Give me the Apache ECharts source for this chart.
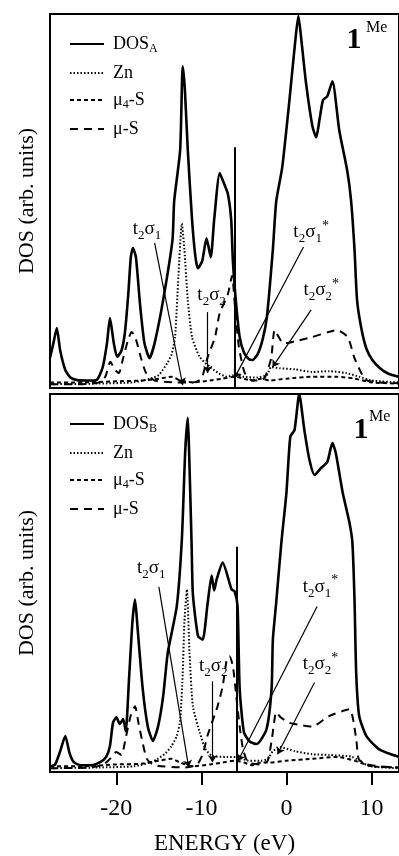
<!DOCTYPE html>
<html><head><meta charset="utf-8">
<script src="https://cdn.jsdelivr.net/npm/echarts@6/dist/echarts.min.js"></script>
<style>html,body{margin:0;padding:0;background:#fff}#c{width:399px;height:856px}</style>
</head><body><div id="c"></div>
<script>
// ---------- data (energy in eV, DOS in arbitrary units 0..100) ----------
const xTickValues = [-20, -10, 0, 10];

const dosA = [[-27.8,8],[-27.4,12],[-27.0,16],[-26.6,10],[-26.0,4.8],[-25.4,2.8],[-24.6,2.1],[-23.5,2.0],[-22.3,2.2],[-21.6,5.6],[-21.1,12],[-20.75,18.7],[-20.3,12],[-19.9,8.3],[-19.4,10],[-19.0,14.7],[-18.6,25],[-18.3,35],[-18.05,37.4],[-17.7,35],[-17.2,22],[-16.7,12],[-16.1,8.0],[-15.5,12],[-14.5,23.5],[-13.4,39.6],[-13.2,50],[-12.5,63.6],[-12.2,86],[-11.95,80],[-11.6,63.6],[-11.1,45],[-10.7,35],[-10.4,32],[-9.9,34],[-9.4,40],[-8.9,35],[-8.5,45],[-7.85,57.5],[-7.4,55],[-6.9,52],[-6.5,45],[-6.3,34],[-5.9,22],[-5.5,13.6],[-5.0,9.5],[-4.4,7.7],[-4.0,7.5],[-3.4,9],[-2.8,13],[-2.3,19],[-1.6,37],[-1.2,50],[-0.5,59],[0.35,77],[1.0,92],[1.4,99.5],[1.8,92],[2.3,81.5],[3.05,70],[3.5,67],[3.9,72],[4.3,77],[4.8,78],[5.4,82],[6.2,69],[7.15,58],[7.6,50],[8.0,37],[8.3,23.5],[8.8,16],[9.4,10.5],[10.1,7.5],[11.0,5.3],[12.0,3.8],[13.2,3]];
const znA = [[-27.8,1],[-22,1.2],[-18,1.5],[-16,2.5],[-15,3.5],[-14,6.7],[-13.5,9],[-13.1,13.6],[-12.7,30],[-12.3,44],[-12.0,37],[-11.6,23.5],[-11.1,13.6],[-10.2,8.3],[-9.0,5.6],[-8,4],[-7,3],[-6,3.5],[-5,3],[-3.5,2.8],[-2.3,3.5],[-1.8,5.6],[-0.8,5.3],[1,5],[3,4.3],[5,4.5],[7,4],[8.6,3],[10,2],[13.2,1.5]];
const mu4SA = [[-27.8,1.5],[-24,1.5],[-20,1.8],[-17,2],[-15,2.5],[-13.5,3],[-12.5,2],[-11,1.5],[-9,2],[-7.5,2.5],[-6,3],[-5,2.5],[-4,2],[-3,2.5],[-2,2],[0,2.5],[3,3],[6,3],[8,2.5],[10,1.5],[13.2,1.2]];
const muSA = [[-27.8,1],[-24,1],[-22,1.5],[-21.3,3],[-20.7,7],[-20.2,5],[-19.7,4],[-19.2,8],[-18.6,13],[-18.2,15],[-17.7,13],[-17.1,8],[-16.5,4],[-15.5,2],[-13,1.5],[-11,1.5],[-10,2.5],[-9.3,8],[-8.4,13.6],[-7.85,20],[-6.9,25],[-6.4,30],[-6.0,20],[-5.6,11],[-5.3,7.5],[-4.9,4],[-4,2],[-3,2],[-2.5,3],[-1.8,8],[-1.4,15.5],[-1.0,14],[-0.4,12],[0,12],[1.0,12.5],[3,13.6],[5.0,15],[5.9,15.5],[7.2,13.6],[8.0,8],[8.8,4],[9.5,2],[11,1.5],[13.2,1.3]];

const dosB = [[-27.8,1.5],[-27.2,2],[-26.6,5.5],[-26.0,9.5],[-25.5,5],[-25.0,2.6],[-24.2,1.8],[-23,1.8],[-21.9,2.6],[-21.2,4],[-20.75,6.9],[-20.4,13],[-20.0,14.5],[-19.6,12.7],[-19.2,14],[-18.9,10.8],[-18.5,25],[-18.1,40],[-17.8,45.6],[-17.5,38],[-16.9,22],[-16.3,12],[-15.7,8.2],[-15.1,12],[-14.5,20],[-13.95,31.6],[-12.9,43.8],[-12.3,61.5],[-11.9,85],[-11.6,93.7],[-11.45,85],[-11.15,60],[-11.0,47],[-10.4,36],[-9.85,35],[-9.3,44],[-8.8,52],[-8.5,48],[-8.2,51],[-7.5,55.4],[-6.45,48.3],[-6.1,47.8],[-5.75,43.8],[-5.5,22],[-5.0,10.5],[-4.3,8],[-3.5,7.4],[-2.35,11.3],[-1.75,22],[-1.6,35],[-1.2,45],[-0.6,60.7],[0,74],[0.45,88.7],[0.95,90.5],[1.5,100],[2.1,90.5],[2.7,82.6],[3.3,78.6],[4.1,80.5],[4.8,82],[5.4,87],[5.8,84.4],[6.6,74],[7.4,66],[7.75,60.7],[8.0,45.6],[8.2,26],[8.55,14.8],[9.4,9.5],[10.9,6],[13.2,4]];
const znB = [[-27.8,1],[-22,1.2],[-18,1.5],[-16,2.5],[-15.2,3.4],[-14.2,5],[-13.5,6.9],[-12.9,9.5],[-12.5,13.5],[-12.2,26],[-12.0,39.6],[-11.7,48.3],[-11.4,31.6],[-11.0,17.4],[-10.2,10.5],[-9.5,6],[-8.7,4.2],[-7,4],[-5.9,4],[-4.5,3],[-3,3],[-2.2,3.5],[-1.6,5.5],[-0.8,6.6],[1,5.5],[3,4.7],[5,4.5],[7.7,4],[9.7,1.6],[13.2,1]];
const mu4SB = [[-27.8,1.5],[-24,1.5],[-20,2],[-17,2.2],[-15,3],[-13.5,3.5],[-12.5,2.5],[-11,1.5],[-9,2],[-7.5,2.5],[-6,3],[-5,2.5],[-4,1.8],[-3,2.5],[-2,2.5],[0,3],[3,3.5],[6,4],[8,3],[10,1.5],[13.2,1.2]];
const muSB = [[-27.8,1],[-23,1.2],[-21.5,2],[-20.75,3.5],[-20,5.3],[-19.4,4.5],[-18.9,9],[-18.3,15],[-17.8,17.4],[-17.4,13],[-17.0,8.7],[-16.4,3.4],[-15.5,1.8],[-12,1.2],[-10.5,2],[-9.8,5],[-9.3,9.5],[-8.1,17.4],[-7.5,22.7],[-7.0,30],[-6.7,30.6],[-6.3,28],[-5.9,20],[-5.5,12],[-5.1,6],[-4.5,2.5],[-3,2],[-2.2,3],[-1.7,9],[-1.2,15.8],[-0.7,14.5],[0.35,13],[1.5,12.5],[3,12],[5,14.8],[7.4,16.6],[8.2,8.7],[8.5,3.4],[9.5,2],[11,1.5],[13.2,1.2]];

// Fermi level lines [energy, top]
const fermiA = [-6.1, 64.4];
const fermiB = [-5.8, 59.6];

// annotations: label, label anchor, arrow start, arrow end
const annA = [
  {label:'t2s1',  at:[-16.4,42.5], from:[-15.5,38.8], to:[-12.2,0.8]},
  {label:'t2s2',  at:[-8.8,24.9],  from:[-9.26,20.3], to:[-9.26,4]},
  {label:'t2s1*', at:[2.9,41.7],   from:[2.0,37.7],   to:[-6.1,2.7]},
  {label:'t2s2*', at:[4.1,26.2],   from:[2.9,20.9],   to:[-1.64,5.6]}
];
const annB = [
  {label:'t2s1',  at:[-15.9,54],   from:[-15.0,49],   to:[-11.5,1.3]},
  {label:'t2s2',  at:[-8.6,28],    from:[-8.7,24],    to:[-8.7,2.6]},
  {label:'t2s1*', at:[4.0,49],     from:[3.6,43.8],   to:[-5.7,2.9]},
  {label:'t2s2*', at:[4.0,28.5],   from:[3.3,23.7],   to:[-1.05,4.7]}
];

// ---------- styling ----------
const SERIF = "'Liberation Serif','Times New Roman',serif";
const annRich = {
  t:{fontFamily:SERIF,fontSize:19,color:'#000',lineHeight:26},
  sb:{fontFamily:SERIF,fontSize:13,color:'#000',lineHeight:13,verticalAlign:'bottom'},
  sp:{fontFamily:SERIF,fontSize:14,color:'#000',lineHeight:14,verticalAlign:'top'}
};
const annText = {
  't2s1':'{t|t}{sb|2}{t|σ}{sb|1}',
  't2s2':'{t|t}{sb|2}{t|σ}{sb|2}',
  't2s1*':'{t|t}{sb|2}{t|σ}{sb|1}{sp|*}',
  't2s2*':'{t|t}{sb|2}{t|σ}{sb|2}{sp|*}'
};
const legRich = {
  m:{fontFamily:SERIF,fontSize:18,color:'#000',lineHeight:22},
  s:{fontFamily:SERIF,fontSize:12,color:'#000',lineHeight:12,verticalAlign:'bottom'}
};
const legText = {
  'DOS_A':'{m|DOS}{s|A}','DOS_B':'{m|DOS}{s|B}','Zn':'{m|Zn}','μ4-S':'{m|μ}{s|4}{m|-S}','μ-S':'{m|μ-S}'
};

function panel(gi, dosName, dos, zn, m4, mu, fermi, ann) {
  const base = {type:'line', xAxisIndex:gi, yAxisIndex:gi, symbol:'none', showSymbol:false, silent:true, animation:false, z:3, smooth:0.2};
  return [
    Object.assign({}, base, {name:dosName, data:dos, lineStyle:{color:'#000',width:2.6,type:'solid'}, itemStyle:{color:'#000'},
      markLine:{silent:true, animation:false, symbol:['none','arrow'], symbolSize:7, label:{show:false},
        lineStyle:{color:'#000',width:1.2,type:'solid'},
        data: ann.map(a => [{coord:a.from},{coord:a.to}])}}),
    Object.assign({}, base, {name:'Zn', data:zn, lineStyle:{color:'#000',width:2,type:[1.5,2]}, itemStyle:{color:'#000'},
      markLine:{silent:true, animation:false, symbol:['none','none'], label:{show:false},
        lineStyle:{color:'#000',width:2,type:'solid'},
        data:[[{coord:[fermi[0],0]},{coord:[fermi[0],fermi[1]]}]]}}),
    Object.assign({}, base, {name:'μ4-S', data:m4, lineStyle:{color:'#000',width:2,type:[4,3]}, itemStyle:{color:'#000'}}),
    Object.assign({}, base, {name:'μ-S', data:mu, lineStyle:{color:'#000',width:2,type:[8,6]}, itemStyle:{color:'#000'},
      markPoint:{silent:true, animation:false, symbol:'rect', symbolSize:1, itemStyle:{color:'rgba(0,0,0,0)'},
        label:{show:true, position:'inside', rich:annRich, formatter:p => annText[p.name]},
        data: ann.map(a => ({name:a.label, coord:a.at}))}})
  ];
}

const xMin = -27.8, xMax = 13.23;
function xAx(gi, showLabels) {
  return {type:'value', gridIndex:gi, min:xMin, max:xMax,
    axisLine:{show:false}, splitLine:{show:false},
    axisTick:{show:showLabels, customValues:xTickValues, length:13, inside:false, lineStyle:{color:'#000',width:2}},
    axisLabel:{show:showLabels, customValues:xTickValues, fontFamily:SERIF, fontSize:24, color:'#000', margin:25,
      formatter:v => String(v)},
    name: showLabels ? 'ENERGY (eV)' : '', nameLocation:'middle', nameGap:60,
    nameTextStyle:{fontFamily:SERIF, fontSize:23, color:'#000'}};
}
function yAx(gi) {
  return {type:'value', gridIndex:gi, min:0, max:100, axisLine:{show:false}, axisTick:{show:false},
    axisLabel:{show:false}, splitLine:{show:false},
    name:'DOS (arb. units)', nameLocation:'middle', nameGap:12,
    nameTextStyle:{fontFamily:SERIF, fontSize:22, color:'#000'}};
}
function legend(topPx, dosName) {
  return {data:[dosName,'Zn','μ4-S','μ-S'], orient:'vertical', left:64, top:topPx, itemWidth:34, itemHeight:14,
    itemGap:9, selectedMode:false,
    itemStyle:{opacity:0, borderWidth:0},
    formatter:n => legText[n], textStyle:{rich:legRich, padding:[0,0,0,4]}};
}

const chart = echarts.init(document.getElementById('c'), null, {renderer:'canvas'});
chart.setOption({
  backgroundColor:'#fff',
  animation:false,
  grid:[
    {left:50, top:14, width:351, height:374, show:true, borderColor:'#000', borderWidth:2, backgroundColor:'transparent'},
    {left:50, top:394, width:351, height:379, show:true, borderColor:'#000', borderWidth:2, backgroundColor:'transparent'}
  ],
  xAxis:[xAx(0,false), xAx(1,true)],
  yAxis:[yAx(0), yAx(1)],
  legend:[legend(30,'DOS_A'), legend(410,'DOS_B')],
  series:[].concat(panel(0,'DOS_A',dosA,znA,mu4SA,muSA,fermiA,annA), panel(1,'DOS_B',dosB,znB,mu4SB,muSB,fermiB,annB)),
  graphic:[
    {type:'text', x:354, y:40, style:{text:'1', font:"bold 30px 'Liberation Serif', serif", fill:'#000', align:'center', verticalAlign:'middle'}},
    {type:'text', x:366, y:28, style:{text:'Me', font:"16px 'Liberation Serif', serif", fill:'#000', align:'left', verticalAlign:'middle'}},
    {type:'text', x:361, y:430, style:{text:'1', font:"bold 30px 'Liberation Serif', serif", fill:'#000', align:'center', verticalAlign:'middle'}},
    {type:'text', x:369, y:417, style:{text:'Me', font:"16px 'Liberation Serif', serif", fill:'#000', align:'left', verticalAlign:'middle'}}
  ]
});
</script></body></html>
